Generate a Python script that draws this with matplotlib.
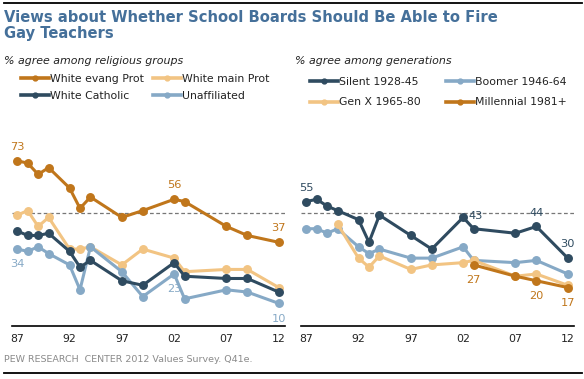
import matplotlib
matplotlib.use("Agg")
import matplotlib.pyplot as plt
from matplotlib.lines import Line2D

# survey years (two-digit offsets from 1900)
years = [87, 88, 89, 90, 92, 93, 94, 97, 99, 102, 103, 107, 109, 112]
year_ticks = [87, 92, 97, 102, 107, 112]
year_labels = ["87", "92", "97", "02", "07", "12"]

# % agree among religious groups
evang = [73, 72, 67, 70, 61, 52, 57, 48, 51, 56, 55, 44, 40, 37]
mainline = [49, 51, 44, 48, 34, 34, 35, 27, 34, 30, 24, 25, 25, 17]
catholic = [42, 40, 40, 41, 33, 26, 29, 20, 18, 28, 22, 21, 21, 15]
unaffil = [34, 33, 35, 32, 27, 16, 35, 24, 13, 23, 12, 16, 15, 10]

# % agree among generations
silent = [55, 56, 53, 51, 47, 37, 49, 40, 34, 48, 43, 41, 44, 30]
boomer = [43, 43, 41, 43, 35, 32, 34, 30, 30, 35, 29, 28, 29, 23]
genx_years = years[3:]
genx = [45, 30, 26, 31, 25, 27, 28, 29, 22, 23, 18]
mill_years = [103, 107, 109, 112]
millennial = [27, 22, 20, 17]

DARK_OR = "#c0761b"
LIGHT_OR = "#f2c483"
DARK_BL = "#2f4b60"
LIGHT_BL = "#86a9c6"

W, H = 584, 379
fig = plt.figure(figsize=(W / 100, H / 100), dpi=100)


def fx(x):
    return x / W


def fy(y):
    return 1 - y / H


def series(ax, x, y, color, label):
    return ax.plot(x, y, color=color, lw=2.2, marker="o", ms=5.4,
                   solid_joinstyle="round", label=label)[0]


def style(ax):
    ax.set_xlim(86.5, 112.6)
    ax.set_ylim(0, 80)
    for s in ["top", "right", "left"]:
        ax.spines[s].set_visible(False)
    ax.spines["bottom"].set_linewidth(1.2)
    ax.set_yticks([])
    ax.set_xticks(year_ticks, year_labels)
    ax.tick_params(axis="x", length=0, pad=6, labelsize=7.8, labelcolor="#222222")
    ax.axhline(50, color="#777777", lw=0.9, ls=(0, (3, 2)), zorder=0)


def lab(ax, x, y, text, color, dx=0, dy=8, ha="center"):
    ax.annotate(text, (x, y), xytext=(dx, dy), textcoords="offset points",
                ha=ha, va="center", fontsize=8.2, color=color)


# left panel
ax1 = fig.add_axes([fx(12), fy(326), 0.4675, (326 - 145) / H])
h_ev = series(ax1, years, evang, DARK_OR, "White evang Prot")
h_mp = series(ax1, years, mainline, LIGHT_OR, "White main Prot")
h_un = series(ax1, years, unaffil, LIGHT_BL, "Unaffiliated")
h_ca = series(ax1, years, catholic, DARK_BL, "White Catholic")
style(ax1)
lab(ax1, years[0], evang[0], "73", DARK_OR, dy=10)
lab(ax1, years[9], evang[9], "56", DARK_OR, dy=10)
lab(ax1, years[-1], evang[-1], "37", DARK_OR, dy=10)
lab(ax1, years[0], unaffil[0], "34", LIGHT_BL, dy=-11)
lab(ax1, years[9], unaffil[9], "23", LIGHT_BL, dy=-11)
lab(ax1, years[-1], unaffil[-1], "10", LIGHT_BL, dy=-11)

# right panel
ax2 = fig.add_axes([fx(301), fy(326), 0.4675, (326 - 145) / H])
h_si = series(ax2, years, silent, DARK_BL, "Silent 1928-45")
h_bo = series(ax2, years, boomer, LIGHT_BL, "Boomer 1946-64")
h_gx = series(ax2, genx_years, genx, LIGHT_OR, "Gen X 1965-80")
h_mi = series(ax2, mill_years, millennial, DARK_OR, "Millennial 1981+")
style(ax2)
lab(ax2, years[0], silent[0], "55", DARK_BL, dy=10)
lab(ax2, years[9], silent[9], "43", DARK_BL, dx=4, dy=1, ha="left")
lab(ax2, years[12], silent[12], "44", DARK_BL, dy=10)
lab(ax2, years[-1], silent[-1], "30", DARK_BL, dy=10)
lab(ax2, mill_years[0], millennial[0], "27", DARK_OR, dy=-11)
lab(ax2, mill_years[2], millennial[2], "20", DARK_OR, dy=-11)
lab(ax2, mill_years[-1], millennial[-1], "17", DARK_OR, dy=-11)

leg_kw = dict(ncol=2, frameon=False, loc="upper left", fontsize=7.8,
              handlelength=2.6, handletextpad=0.1, borderpad=0, borderaxespad=0,
              labelcolor="#222222")
leg1 = fig.legend([h_ev, h_ca, h_mp, h_un],
                  ["White evang Prot", "White Catholic", "White main Prot", "Unaffiliated"],
                  bbox_to_anchor=(fx(21), fy(74)), columnspacing=0.8,
                  labelspacing=0.62, **leg_kw)
leg2 = fig.legend([h_si, h_gx, h_bo, h_mi],
                  ["Silent 1928-45", "Gen X 1965-80", "Boomer 1946-64", "Millennial 1981+"],
                  bbox_to_anchor=(fx(310), fy(77)), columnspacing=2.3,
                  labelspacing=0.95, **leg_kw)
for leg in (leg1, leg2):
    for ln in leg.get_lines():
        ln.set_markersize(3.5)
        ln.set_linewidth(2.6)

# titles and notes
fig.text(fx(4), fy(10), "Views about Whether School Boards Should Be Able to Fire\nGay Teachers",
         fontsize=10.6, fontweight="bold", color="#45709a", ha="left", va="top",
         linespacing=1.08)
fig.text(fx(4), fy(61), "% agree among religious groups", fontsize=7.9,
         style="italic", color="#222222", va="center")
fig.text(fx(295), fy(61), "% agree among generations", fontsize=7.9,
         style="italic", color="#222222", va="center")
fig.text(fx(4), fy(359), "PEW RESEARCH  CENTER 2012 Values Survey. Q41e.",
         fontsize=6.8, color="#8a8a8a", va="center")

fig.add_artist(Line2D([fx(4), fx(582)], [fy(3), fy(3)], color="black", lw=1.3))
fig.add_artist(Line2D([fx(4), fx(582)], [fy(373), fy(373)], color="black", lw=1.3))

fig.savefig("out.png", dpi=100)
